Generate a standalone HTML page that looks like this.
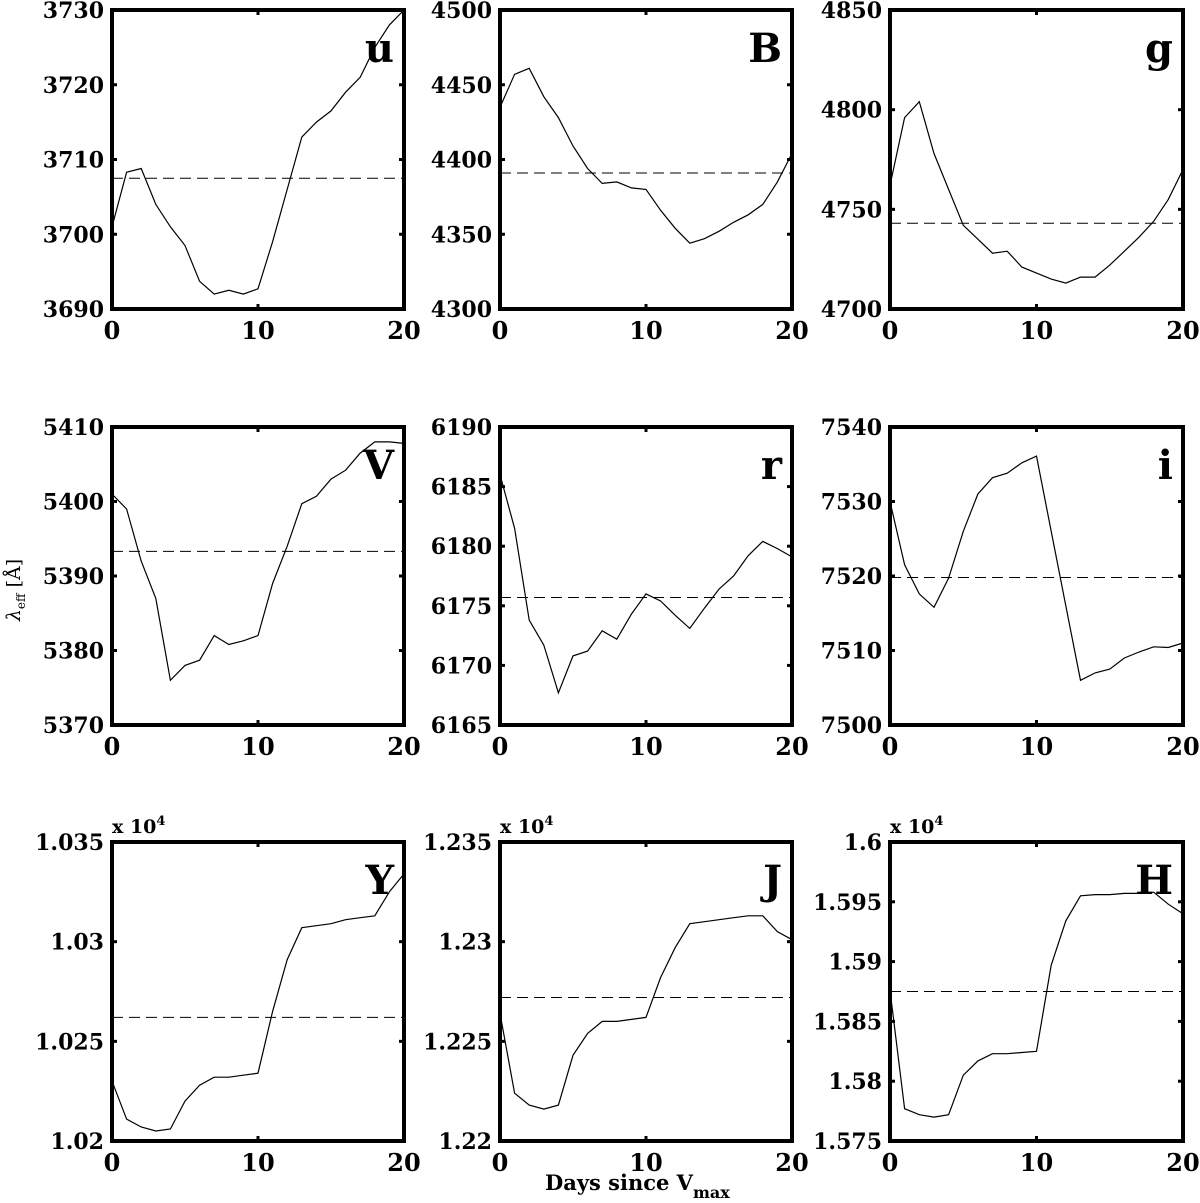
<!DOCTYPE html>
<html><head><meta charset="utf-8"><style>
html,body{margin:0;padding:0;background:#fff}
svg{display:block}
text{font-family:"DejaVu Serif","Liberation Serif",serif;font-weight:bold;fill:#000}
</style></head><body>
<svg id="fig" width="1200" height="1203" viewBox="0 0 1200 1203"></svg>
<script>
const days=[0,1,2,3,4,5,6,7,8,9,10,11,12,13,14,15,16,17,18,19,20];
const bandNames=["u","B","g","V","r","i","Y","J","H"];
const uVals=[3701,3708.3,3708.8,3704,3701,3698.5,3693.7,3692,3692.5,3692,3692.7,3699,3706,3713,3715,3716.5,3719,3721,3725,3728,3730];
const BVals=[4435,4457,4461,4442,4428,4409,4394,4384,4385,4381,4380,4366,4354,4344,4347,4352,4358,4363,4370,4385,4404];
const gVals=[4762,4796,4804,4778,4760,4742,4735,4728,4729,4721,4718,4715,4713,4716,4716,4722,4729,4736,4744,4755,4770];
const VVals=[5401,5399,5392,5387,5376,5378,5378.7,5382,5380.8,5381.3,5382,5389,5394,5399.7,5400.7,5403,5404.2,5406.5,5408,5408,5407.8];
const rVals=[6186,6181.5,6173.8,6171.7,6167.7,6170.8,6171.2,6172.9,6172.2,6174.3,6176,6175.4,6174.2,6173.1,6174.8,6176.4,6177.5,6179.2,6180.4,6179.8,6179.1];
const iVals=[7530,7521.5,7517.6,7515.8,7519.7,7526,7531,7533.2,7533.8,7535.2,7536.1,7526,7516,7506,7507,7507.5,7509,7509.8,7510.5,7510.4,7511];
const YVals=[1.0230,1.0211,1.0207,1.0205,1.0206,1.0220,1.0228,1.0232,1.0232,1.0233,1.0234,1.0265,1.0291,1.0307,1.0308,1.0309,1.0311,1.0312,1.0313,1.0325,1.0334];
const JVals=[1.2264,1.2224,1.2218,1.2216,1.2218,1.2243,1.2254,1.2260,1.2260,1.2261,1.2262,1.2282,1.2297,1.2309,1.2310,1.2311,1.2312,1.2313,1.2313,1.2305,1.2301];
const HVals=[1.5876,1.5777,1.5772,1.5770,1.5772,1.5805,1.5817,1.5823,1.5823,1.5824,1.5825,1.5897,1.5934,1.5955,1.5956,1.5956,1.5957,1.5957,1.5958,1.5948,1.5940];
const meanVals=[3707.5,4391,4743,5393.3,6175.7,7519.8,1.0262,1.2272,1.5875];
const yTicksU=["3690","3700","3710","3720","3730"];
const yTicksB=["4300","4350","4400","4450","4500"];
const yTicksG=["4700","4750","4800","4850"];
const yTicksV=["5370","5380","5390","5400","5410"];
const yTicksR=["6165","6170","6175","6180","6185","6190"];
const yTicksI=["7500","7510","7520","7530","7540"];
const yTicksY=["1.02","1.025","1.03","1.035"];
const yTicksJ=["1.22","1.225","1.23","1.235"];
const yTicksH=["1.575","1.58","1.585","1.59","1.595","1.6"];
const xTicks=["0","10","20"];

const series=[uVals,BVals,gVals,VVals,rVals,iVals,YVals,JVals,HVals];
const tickSets=[yTicksU,yTicksB,yTicksG,yTicksV,yTicksR,yTicksI,yTicksY,yTicksJ,yTicksH];
const colX=[[112,404],[500,792],[890,1183]];
const rowY=[[10,309],[427,725],[842,1141]];
const NS="http://www.w3.org/2000/svg";
const svg=document.getElementById('fig');
function mk(tag,attrs,parent){const e=document.createElementNS(NS,tag);for(const k in attrs)e.setAttribute(k,attrs[k]);(parent||svg).appendChild(e);return e;}

for(let p=0;p<9;p++){
  const [x0,x1]=colX[p%3],[y0,y1]=rowY[Math.floor(p/3)];
  const ticks=tickSets[p].map(Number);
  const ymin=ticks[0],ymax=ticks[ticks.length-1];
  const sx=v=>x0+(v-0)/(20-0)*(x1-x0);
  const sy=v=>y1-(v-ymin)/(ymax-ymin)*(y1-y0);
  const g=mk('g',{});
  
  
  tickSets[p].forEach(t=>{
    const y=sy(Number(t));
    mk('line',{x1:x0,x2:x0+5,y1:y,y2:y,stroke:'#000','stroke-width':3},g);
    mk('line',{x1:x1-5,x2:x1,y1:y,y2:y,stroke:'#000','stroke-width':3},g);
    const tl=mk('text',{x:x0-8,y:y+8,'text-anchor':'end','font-size':22},g);
    tl.textContent=t;
    
    
  });
  xTicks.forEach(t=>{
    const x=sx(Number(t));
    mk('line',{x1:x,x2:x,y1:y1,y2:y1-5,stroke:'#000','stroke-width':3},g);
    mk('line',{x1:x,x2:x,y1:y0,y2:y0+5,stroke:'#000','stroke-width':3},g);
    const tl=mk('text',{x:x,y:y1+30,'text-anchor':'middle','font-size':24},g);
    tl.textContent=t;
    
    
  });
  const dl=mk('line',{x1:x0,x2:x1,y1:sy(meanVals[p]),y2:sy(meanVals[p]),stroke:'#000','stroke-width':1,'stroke-dasharray':'11,6'},g);
  
  
  const pts=days.map((d,i)=>sx(d).toFixed(1)+','+sy(series[p][i]).toFixed(1)).join(' ');
  const pl=mk('polyline',{points:pts,fill:'none',stroke:'#000','stroke-width':1.2},g);
  
  
  const fr=mk('rect',{x:x0,y:y0,width:x1-x0,height:y1-y0,fill:'none',stroke:'#000','stroke-width':4},g);
  
  
  const bl=mk('text',{x:x1-10,y:y0+52,'text-anchor':'end','font-size':40},g);
  bl.textContent=bandNames[p];
  
  
  if(p>=6){
    const ex=mk('text',{x:x0,y:y0-9,'font-size':19},g);
    ex.innerHTML='x 10<tspan dy="-8" font-size="13">4</tspan>';
    
    
  }
}
</script>
<div style="position:absolute;left:0;top:0">
<svg width="1200" height="1203" style="position:absolute;left:0;top:0">
<text x="0" y="0" transform="translate(20,590) rotate(-90)" text-anchor="middle" font-size="19" style="font-weight:normal;font-style:italic">λ<tspan dy="5" font-size="12" font-style="normal">eff</tspan><tspan dy="-5" font-style="normal"> [Å]</tspan></text>
<text x="545" y="1190" font-size="21">Days since V<tspan dy="8" font-size="16">max</tspan></text>
</svg></div>
</body></html>
